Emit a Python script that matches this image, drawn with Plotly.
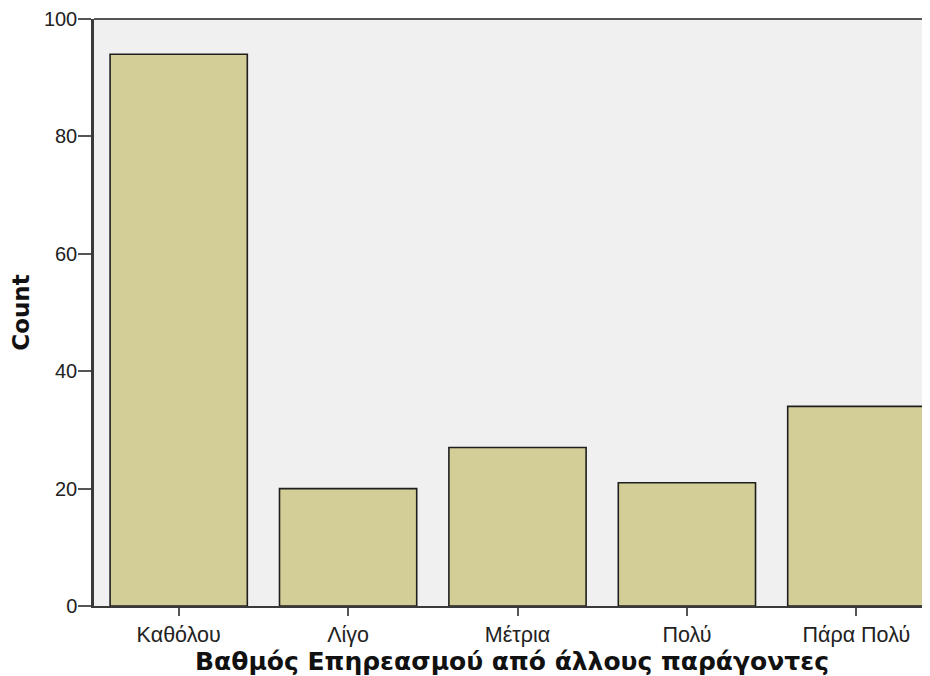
import plotly.graph_objects as go

categories = ["Καθόλου", "Λίγο", "Μέτρια", "Πολύ", "Πάρα Πολύ"]
counts = [94, 20, 27, 21, 34]
y_ticks = [0, 20, 40, 60, 80, 100]

BAR_COLOR = "#D3CE98"
PLOT_BG = "#F0F0F0"
AXIS_COLOR = "#3A3A3A"

# the page body has an 8px margin, so the figure is sized/offset to fill the window
fig = go.Figure(
    go.Bar(
        x=categories,
        y=counts,
        marker=dict(color=BAR_COLOR, line=dict(color="#1E1E1E", width=1.6)),
        width=0.81,
    )
)

fig.update_layout(
    width=922,
    height=668,
    margin=dict(l=86, r=0, t=9, b=70, pad=0),
    paper_bgcolor="white",
    plot_bgcolor=PLOT_BG,
    showlegend=False,
    font=dict(family="Liberation Sans, Arial, sans-serif", size=20, color="#222222"),
)

fig.update_xaxes(
    range=[-0.5, 4.435],
    showgrid=False,
    zeroline=False,
    showline=True,
    linecolor=AXIS_COLOR,
    linewidth=2,
    ticks="outside",
    ticklen=8,
    tickwidth=1.5,
    tickcolor="#555555",
    tickfont=dict(size=21.5),
    ticklabeloverflow="allow",
    title=dict(
        text="<b>Βαθμός Επηρεασμού από άλλους παράγοντες</b>",
        font=dict(family="DejaVu Sans, sans-serif", size=25, color="#111111"),
        standoff=4,
    ),
)

fig.update_yaxes(
    range=[0, 100],
    tickvals=y_ticks,
    showgrid=False,
    zeroline=False,
    showline=True,
    linecolor=AXIS_COLOR,
    linewidth=2.5,
    ticks="outside",
    ticklen=13,
    tickwidth=1.5,
    tickcolor="#555555",
    tickfont=dict(size=20),
    ticklabelstandoff=-3,
    ticklabeloverflow="allow",
    title=dict(
        text="<b>Count</b>",
        font=dict(family="DejaVu Sans, sans-serif", size=23, color="#111111"),
        standoff=14,
    ),
)

# top frame line of the plot area
fig.add_shape(
    type="line", xref="paper", yref="paper",
    x0=0, x1=1, y0=1, y1=1,
    line=dict(color="#555555", width=2),
)

fig.write_html("out.html")
